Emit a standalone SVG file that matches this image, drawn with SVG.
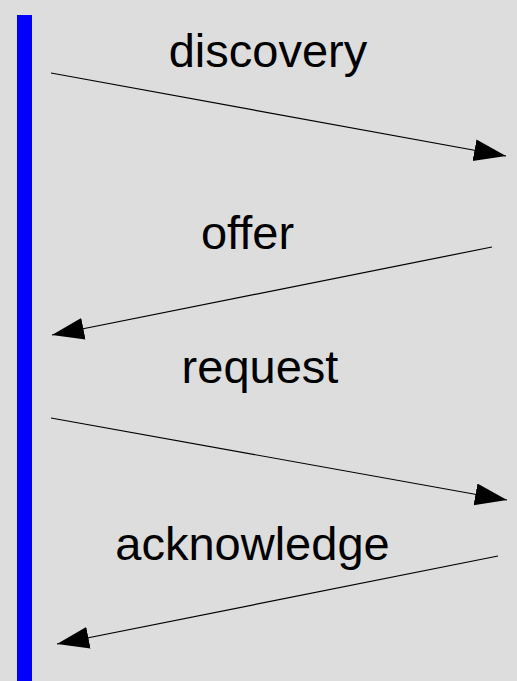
<svg xmlns="http://www.w3.org/2000/svg" width="517" height="681" viewBox="0 0 517 681">
  <style>
    .lbl { font-family: "Liberation Sans", Arial, sans-serif; font-size: 47px; fill: #000; text-anchor: middle; }
    .msg { stroke: #000; stroke-width: 1.2; fill: none; marker-end: url(#head); }
  </style>
  <defs>
    <marker id="head" markerUnits="userSpaceOnUse" markerWidth="33" markerHeight="23" refX="32" refY="11" orient="auto">
      <path d="M0,0 L32,11 L0,22 z" fill="#000"/>
    </marker>
  </defs>
  <rect x="0" y="0" width="517" height="681" fill="#dddddd"/>
  <g id="lifeline">
    <rect x="17" y="15" width="15" height="666" fill="#0000ff"/>
  </g>
  <g id="label-discovery"><text class="lbl" x="268" y="67">discovery</text></g>
  <g id="label-offer"><text class="lbl" x="247.5" y="249">offer</text></g>
  <g id="label-request"><text class="lbl" x="260" y="383">request</text></g>
  <g id="label-acknowledge"><text class="lbl" x="252.5" y="560">acknowledge</text></g>
  <g id="connectors">
    <line class="msg" x1="51" y1="73" x2="506" y2="156"/>
    <line class="msg" x1="492" y1="247" x2="52" y2="335"/>
    <line class="msg" x1="51" y1="418" x2="507" y2="500"/>
    <line class="msg" x1="498" y1="556" x2="57" y2="644"/>
  </g>
</svg>
